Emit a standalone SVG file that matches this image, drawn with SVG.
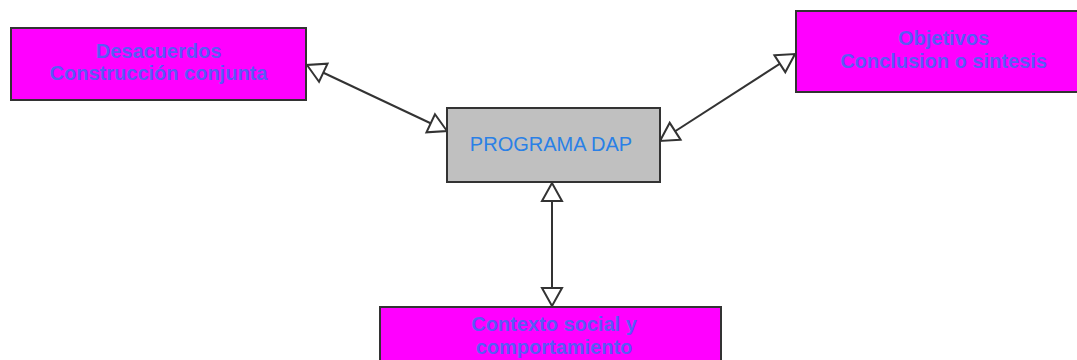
<svg xmlns="http://www.w3.org/2000/svg" width="1077" height="360" viewBox="0 0 1077 360">
  <style>
    .box { stroke: #333333; stroke-width: 2; }
    .pink { fill: #ff00ff; }
    .grey { fill: #c0c0c0; }
    .lbl { font-family: "Liberation Sans", Arial, sans-serif; font-size: 20px; font-weight: bold; fill: #5a5af5; text-anchor: middle; }
    .main { font-family: "Liberation Sans", Arial, sans-serif; font-size: 20px; fill: #2a80e6; text-anchor: middle; }
    .link { stroke: #333333; stroke-width: 2; fill: none; marker-start: url(#tri); marker-end: url(#tri); }
  </style>
  <defs>
    <marker id="tri" viewBox="0 0 18 20" refX="18" refY="10" markerWidth="18" markerHeight="20" markerUnits="userSpaceOnUse" orient="auto-start-reverse" overflow="visible">
      <path d="M0,0 L18,10 L0,20 Z" fill="#ffffff" stroke="#333333" stroke-width="2" stroke-linejoin="miter"/>
    </marker>
  </defs>

  <rect width="1077" height="360" fill="#ffffff"/>

  <g id="connectors">
    <line class="link" x1="307" y1="65" x2="447" y2="131"/>
    <line class="link" x1="660" y1="141" x2="795" y2="54"/>
    <line class="link" x1="552" y1="183" x2="552" y2="306"/>
  </g>

  <g id="desacuerdos">
    <rect class="box pink" x="11" y="28" width="295" height="72"/>
    <text class="lbl" x="158.5" y="58">Desacuerdos</text>
    <text class="lbl" x="158.5" y="80">Construcción conjunta</text>
  </g>

  <g id="objetivos">
    <rect class="box pink" x="796" y="11" width="295" height="81"/>
    <text class="lbl" x="943.5" y="45">Objetivos</text>
    <text class="lbl" x="943.5" y="68">Conclusion o sintesis</text>
  </g>

  <g id="programa">
    <rect class="box grey" x="447" y="108" width="213" height="74"/>
    <text class="main" x="551" y="151">PROGRAMA DAP</text>
  </g>

  <g id="contexto">
    <rect class="box pink" x="380" y="307" width="341" height="70"/>
    <text class="lbl" x="554" y="331">Contexto social y</text>
    <text class="lbl" x="554" y="354">comportamiento</text>
  </g>
</svg>
